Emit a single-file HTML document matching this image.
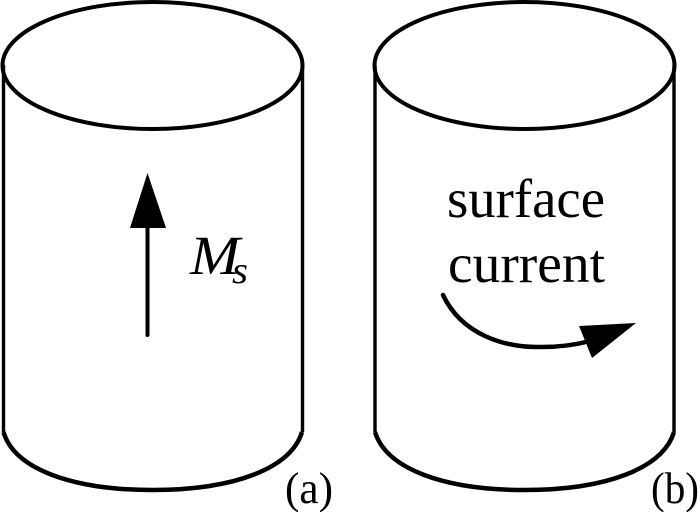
<!DOCTYPE html>
<html>
<head>
<meta charset="utf-8">
<style>
html,body{margin:0;padding:0;background:#fff;width:700px;height:512px;overflow:hidden}
svg{display:block}
text{font-family:"Liberation Serif",serif;fill:#000}
</style>
</head>
<body>
<svg width="700" height="512" viewBox="0 0 700 512" xmlns="http://www.w3.org/2000/svg">
<g fill="none" stroke="#000" stroke-width="4">
<ellipse cx="152.500" cy="65.500" rx="150" ry="63.500"/>
<path d="M3.500 65V432 M302.500 65V432" stroke-width="3.400"/>
<path d="M3.500 432C14 468 70 490 152.500 490C235 490 291 468 302 432" stroke-width="4.500"/>
<ellipse cx="524.500" cy="65.500" rx="150" ry="63.500"/>
<path d="M375 65V432 M674 65V432" stroke-width="3.400"/>
<path d="M375 432C386 468 442 490 524.500 490C607 490 663 468 674 432" stroke-width="4.500"/>
<path d="M147.500 335V226" stroke-width="4" stroke-linecap="round"/>
<path d="M443 295C462 335 505 348 542 347C560 347 575 345 590 341" stroke-width="4.500" stroke-linecap="round"/>
</g>
<polygon points="147.500,173 130,228 166,228" fill="#000"/>
<polygon points="636,323 579,326 592,358" fill="#000"/>
<text x="447" y="217" font-size="55" textLength="158" lengthAdjust="spacingAndGlyphs">surface</text>
<text x="448" y="282" font-size="55" textLength="157" lengthAdjust="spacingAndGlyphs">current</text>
<text x="190" y="274" font-size="55" font-style="italic" textLength="50" lengthAdjust="spacingAndGlyphs">M</text>
<text x="232" y="283" font-size="38" font-style="italic" textLength="16" lengthAdjust="spacingAndGlyphs">s</text>
<text x="285" y="503" font-size="44" textLength="48" lengthAdjust="spacingAndGlyphs">(a)</text>
<text x="651" y="503" font-size="44" textLength="48" lengthAdjust="spacingAndGlyphs">(b)</text>
</svg>
</body>
</html>
